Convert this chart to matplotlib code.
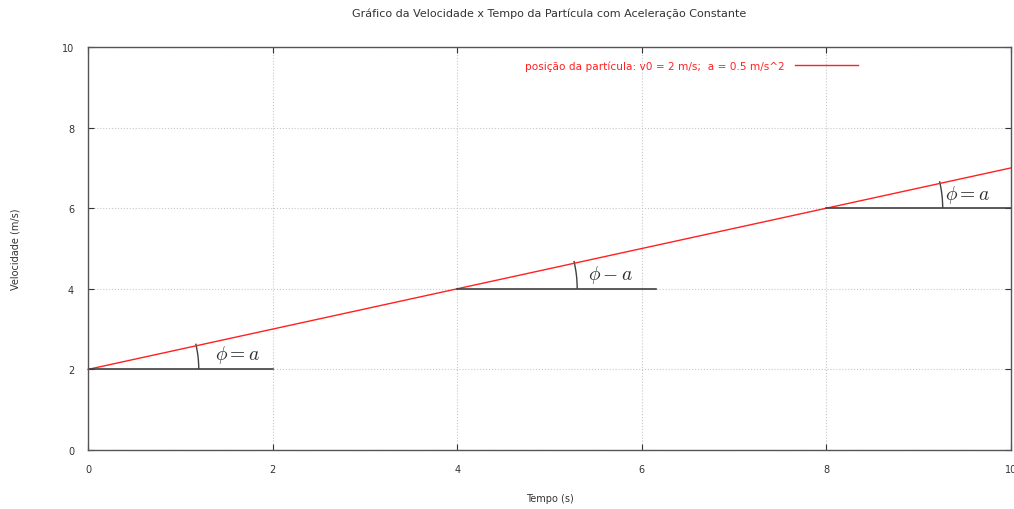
import matplotlib
matplotlib.use("Agg")
import matplotlib.pyplot as plt
from matplotlib.patches import Arc
import numpy as np

# Data
t_vals = [0, 10]
v0 = 2.0
a = 0.5
v_vals = [v0 + a * t for t in t_vals]
xticks = [0, 2, 4, 6, 8, 10]
yticks = [0, 2, 4, 6, 8, 10]
ref_start = [0, 4, 8]
ref_end = [2, 6.15, 10]
ref_y = [2, 4, 6]
ang_labels = [r"$\phi = a$", r"$\phi - a$", r"$\phi = a$"]
lbl_x = [1.38, 5.42, 9.28]
lbl_y = [2.38, 4.37, 6.35]
arc_r = [1.2, 1.3, 1.26]

plt.rcParams['mathtext.fontset'] = 'cm'
fig = plt.figure(figsize=(10.14, 5.10), dpi=100)
ax = fig.add_axes([88/1014, 59/510, (1011-88)/1014, (451-48)/510])
ax.set_xlim(0, 10)
ax.set_ylim(0, 10)

ax.plot(t_vals, v_vals, color='#ff2020', lw=1.0,
        label='posição da partícula: v0 = 2 m/s;  a = 0.5 m/s^2', clip_on=False)

for xs, xe, y in zip(ref_start, ref_end, ref_y):
    ax.plot([xs, xe], [y, y], color='#404040', lw=1.2)

fig.canvas.draw()
px_x = ax.transData.transform((1, 0))[0] - ax.transData.transform((0, 0))[0]
px_y = ax.transData.transform((0, 1))[1] - ax.transData.transform((0, 0))[1]
ang_data = np.degrees(np.arctan(a))
for xs, y, r in zip(ref_start, ref_y, arc_r):
    w = 2 * r
    h = 2 * r * px_x / px_y
    ax.add_patch(Arc((xs, y), w, h, theta1=0, theta2=ang_data * 1.08,
                     color='#404040', lw=1.0))

for s, x, y in zip(ang_labels, lbl_x, lbl_y):
    ax.text(x, y, s, fontsize=14, color='#303030', va='center', ha='left')

ax.set_xticks(xticks)
ax.set_yticks(yticks)
ax.tick_params(direction='in', length=4, labelsize=7, colors='#333333', top=True, right=True, pad=10)
ax.grid(True, color='#c8c8c8', linestyle=':', lw=0.8)
for sp in ax.spines.values():
    sp.set_color('#555555')
    sp.set_linewidth(1.0)

ax.set_xlabel('Tempo (s)', fontsize=7, color='#333333', labelpad=14)
ax.set_ylabel('Velocidade (m/s)', fontsize=7, color='#333333', labelpad=30)
ax.set_title('Gráfico da Velocidade x Tempo da Partícula com Aceleração Constante',
             fontsize=8, color='#333333', pad=22)

leg = ax.legend(loc='upper right', bbox_to_anchor=(0.845, 0.99), frameon=False,
                fontsize=7.6, handlelength=6.0, markerfirst=False, handletextpad=1.0)
for txt in leg.get_texts():
    txt.set_color('#ff2020')

fig.savefig('out.png', dpi=100)
